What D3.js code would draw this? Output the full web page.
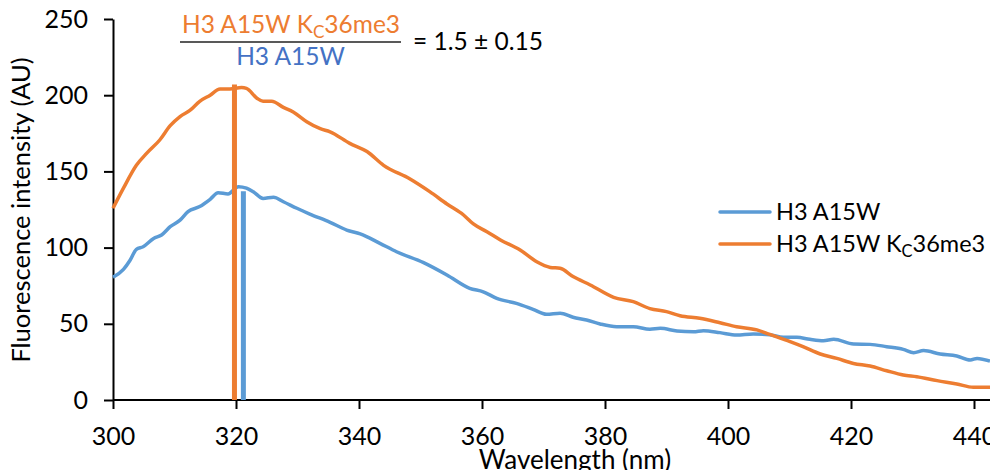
<!DOCTYPE html>
<html>
<head>
<meta charset="utf-8">
<script src="https://cdn.jsdelivr.net/npm/d3@7"></script>
<style>
  body { margin: 0; background: #fff; }
  text { font-family: Lato, "Open Sans", sans-serif; }
</style>
</head>
<body>
<div id="chart"></div>
<script>
/* values (wavelength nm, intensity AU) */
var wlA15W = [300, 301.7, 302.8, 303.8, 304.9, 306.6, 307.9, 309.3, 310.9, 312.2, 314.1, 315.8, 317.1, 318.7, 320.4, 321.7, 322.8, 324.4, 326.1, 327.7, 329.9, 332, 335.3, 338, 340.2, 343.4, 346.1, 350.5, 354.3, 358, 360.2, 362.4, 365.6, 368.3, 370.5, 372.7, 374.8, 377, 379.2, 381.9, 384.6, 387.3, 389, 391.7, 394.4, 396, 398.7, 401.4, 404.1, 406.8, 409, 411.2, 413.3, 415.5, 417.2, 420.4, 423.1, 425.8, 428.5, 430.2, 431.8, 434.5, 437.2, 439.4, 440.5, 442.6];
var a15w = [80.5, 85.7, 91.9, 98.9, 100.6, 106, 108.3, 113.7, 118, 123.6, 126.9, 131.7, 136, 135.2, 140, 139, 136.7, 132.3, 133, 130.1, 125.8, 122, 116.6, 111.5, 109, 102.8, 97.3, 90.1, 82, 73.3, 71, 66.7, 63.4, 59.5, 56.2, 56.9, 54.3, 52.5, 49.9, 48.1, 48.1, 46.4, 47, 45.3, 44.8, 45.5, 44.2, 42.6, 43.3, 42.8, 41.1, 41.1, 39.8, 38.9, 39.8, 36.7, 36.5, 35, 33.2, 31, 32.4, 30.2, 28.9, 26.2, 27.3, 25.6];

var wlMe3 = [300, 301.7, 303.8, 305.5, 307.6, 309.3, 310.9, 312.5, 314.1, 315.8, 317.4, 319, 320.9, 321.7, 323.4, 324.4, 325.8, 327.7, 329.3, 331.5, 333.7, 335.3, 338.5, 341.3, 344, 348.3, 351.5, 354.3, 357, 358.6, 360.8, 363, 366.2, 368.9, 371.1, 372.7, 374.8, 377.6, 381.4, 384.6, 387.3, 390, 392.2, 395.4, 398.7, 401.4, 404.7, 406.8, 410.1, 412.2, 415, 417.7, 420.4, 423.1, 425.8, 428.5, 430.7, 434, 437.2, 439.9, 442.6];
var a15wMe3 = [125.8, 139, 154, 162, 170.6, 180, 186, 190, 196, 200, 204, 204, 205, 204.5, 198, 196, 196, 192, 189, 182.6, 178, 176, 168.4, 163, 154, 145, 136.7, 128.6, 121.4, 115.5, 110.4, 105, 98.4, 90.7, 87, 86.4, 81, 75.5, 67.4, 64.5, 60, 58, 55.3, 53.6, 50.7, 48.1, 46, 43, 38.3, 35, 30.2, 27.3, 24, 22.3, 19.2, 16.4, 15.3, 12.7, 10.5, 8.3, 8.3];

/* peak markers: [H3 A15W KC36me3, H3 A15W] */
var peakWl = [319.75, 321.2];
var peakVal = [207, 137];

var xTicks = [300, 320, 340, 360, 380, 400, 420, 440];
var yTicks = [0, 50, 100, 150, 200, 250];

var blue = "#5b9bd5";
var orange = "#ed7d31";
var textBlue = "#4472c4";

var width = 990, height = 470;
var svg = d3.select("#chart").append("svg")
	.attr("width", width)
	.attr("height", height);

var x = d3.scaleLinear().domain([300, 440]).range([113, 974]);
var y = d3.scaleLinear().domain([0, 250]).range([400, 19]);

/* axes */
var yAxis = svg.append("g")
	.attr("transform", "translate(113,0)")
	.call(d3.axisLeft(y).tickValues(yTicks).tickSize(9).tickSizeOuter(0).tickPadding(16));
yAxis.select(".domain").attr("stroke-width", 2);
yAxis.selectAll(".tick line").attr("stroke-width", 2);
yAxis.selectAll("text").attr("font-size", 25).attr("fill", "#000");

var xAxis = svg.append("g")
	.attr("transform", "translate(0,400)")
	.call(d3.axisBottom(x).tickValues(xTicks).tickSize(9).tickSizeOuter(0));
xAxis.select(".domain").attr("d", "M113,0H990").attr("stroke-width", 2);
xAxis.selectAll(".tick line").attr("stroke-width", 2);
xAxis.selectAll("text").attr("font-size", 25).attr("fill", "#000").attr("y", 45).attr("dy", 0);

svg.append("text")
	.attr("x", 575).attr("y", 469)
	.attr("text-anchor", "middle")
	.attr("font-size", 26)
	.text("Wavelength (nm)");

svg.append("text")
	.attr("transform", "translate(30,210) rotate(-90)")
	.attr("text-anchor", "middle")
	.attr("font-size", 25.5)
	.text("Fluorescence intensity (AU)");

/* spectra */
var line = d3.line()
	.x(function(d) { return x(d[0]); })
	.y(function(d) { return y(d[1]); })
	.curve(d3.curveMonotoneX);

svg.append("path")
	.datum(d3.zip(wlA15W, a15w))
	.attr("fill", "none").attr("stroke", blue).attr("stroke-width", 3.5)
	.attr("stroke-linejoin", "round")
	.attr("d", line);

svg.append("path")
	.datum(d3.zip(wlMe3, a15wMe3))
	.attr("fill", "none").attr("stroke", orange).attr("stroke-width", 3.5)
	.attr("stroke-linejoin", "round")
	.attr("d", line);

/* peak bars */
var peakColors = [orange, blue];
peakWl.forEach(function(w, i) {
	svg.append("line")
		.attr("x1", x(w)).attr("x2", x(w))
		.attr("y1", y(0)).attr("y2", y(peakVal[i]))
		.attr("stroke", peakColors[i])
		.attr("stroke-width", 5);
});

/* ratio annotation */
function labelWithSub(sel, a, sub, b, size) {
	sel.append("tspan").text(a);
	sel.append("tspan").attr("font-size", size * 0.7).attr("dy", 5).text(sub);
	sel.append("tspan").attr("dy", -5).text(b);
}

var num = svg.append("text")
	.attr("x", 291).attr("y", 33)
	.attr("text-anchor", "middle")
	.attr("font-size", 24.5)
	.attr("fill", orange);
labelWithSub(num, "H3 A15W K", "C", "36me3", 24.5);

svg.append("line")
	.attr("x1", 180).attr("x2", 401)
	.attr("y1", 42).attr("y2", 42)
	.attr("stroke", "#222").attr("stroke-width", 1.5);

svg.append("text")
	.attr("x", 290.5).attr("y", 65)
	.attr("text-anchor", "middle")
	.attr("font-size", 24.5)
	.attr("fill", textBlue)
	.text("H3 A15W");

svg.append("text")
	.attr("x", 413).attr("y", 50)
	.attr("font-size", 24.5)
	.text("= 1.5 \u00b1 0.15");

/* legend */
var legend = svg.append("g");
[[blue, 212], [orange, 244]].forEach(function(d) {
	legend.append("line")
		.attr("x1", 720).attr("x2", 770)
		.attr("y1", d[1]).attr("y2", d[1])
		.attr("stroke", d[0]).attr("stroke-width", 3.5)
		.attr("stroke-linecap", "round");
});
legend.append("text")
	.attr("x", 776).attr("y", 220)
	.attr("font-size", 23.5)
	.text("H3 A15W");
var leg2 = legend.append("text")
	.attr("x", 776).attr("y", 252)
	.attr("font-size", 23.5);
labelWithSub(leg2, "H3 A15W K", "C", "36me3", 23.5);
</script>
</body>
</html>
